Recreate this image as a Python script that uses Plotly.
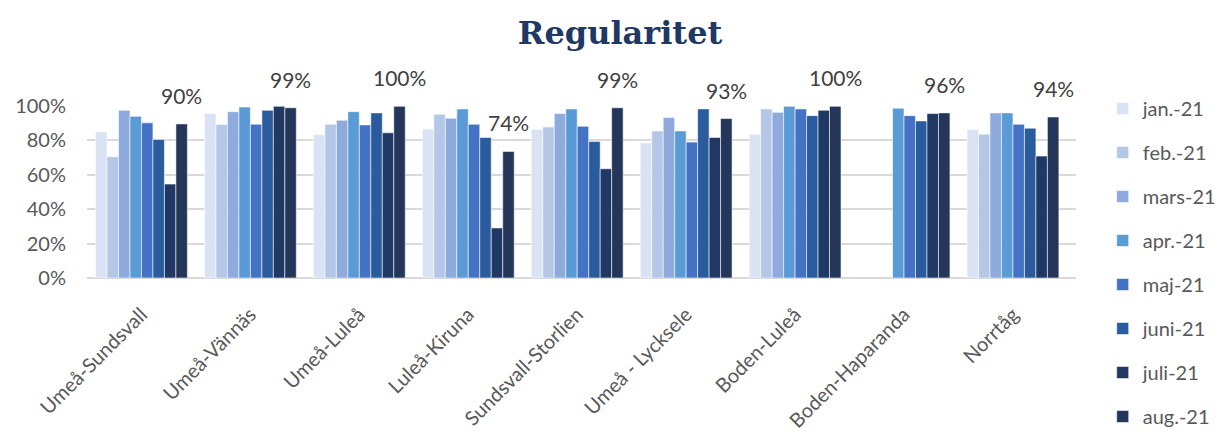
import plotly.graph_objects as go

categories = ["Umeå-Sundsvall", "Umeå-Vännäs", "Umeå-Luleå", "Luleå-Kiruna",
              "Sundsvall-Storlien", "Umeå - Lycksele", "Boden-Luleå",
              "Boden-Haparanda", "Norrtåg"]
months = ["jan.-21", "feb.-21", "mars-21", "apr.-21", "maj-21", "juni-21", "juli-21", "aug.-21"]

jan = [0.85, 0.956, 0.834, 0.867, 0.863, 0.786, 0.836, None, 0.863]
feb = [0.705, 0.892, 0.894, 0.952, 0.878, 0.855, 0.983, None, 0.836]
mars = [0.975, 0.967, 0.917, 0.929, 0.956, 0.933, 0.963, None, 0.96]
apr = [0.94, 0.994, 0.967, 0.983, 0.983, 0.855, 0.998, 0.987, 0.96]
maj = [0.902, 0.894, 0.89, 0.894, 0.882, 0.79, 0.983, 0.944, 0.894]
juni = [0.805, 0.975, 0.96, 0.817, 0.794, 0.983, 0.944, 0.913, 0.871]
juli = [0.546, 0.998, 0.844, 0.291, 0.635, 0.817, 0.975, 0.956, 0.709]
aug = [0.896, 0.99, 0.998, 0.736, 0.99, 0.927, 0.998, 0.96, 0.936]

series = [jan, feb, mars, apr, maj, juni, juli, aug]
colors = ["#DAE3F3", "#B4C7E7", "#8FAADC", "#5B9BD5", "#4472C4", "#2A5B9C", "#1F3864", "#24365A"]

fig = go.Figure()
for i, (name, vals, col) in enumerate(zip(months, series, colors)):
    fig.add_trace(go.Bar(
        x=categories, y=vals, name=name, marker_color=col,
        marker_line=dict(color="rgba(255,255,255,0.55)", width=1),
        legendgroup=name,
    ))

ncat = len(categories)
bargap = 0.157
cat_px = (1223 - 87 - 147) / ncat
bar_px = cat_px * (1 - bargap) / len(months)
aug_shift = 3.5 * bar_px
for c, v in zip(categories, aug):
    fig.add_annotation(x=c, y=v, text=f"{round(v*100):d}%", showarrow=False,
                       xshift=aug_shift, yshift=14, yanchor="bottom",
                       font=dict(family="Lato, Liberation Sans", size=21, color="#404040"))

fig.update_layout(
    width=1223, height=432,
    margin=dict(l=87, r=147, t=106, b=154, autoexpand=False),
    paper_bgcolor="white", plot_bgcolor="white",
    barmode="group", bargap=bargap, bargroupgap=0,
    title=dict(text="<b>Regularitet</b>", x=0.507, xanchor="center", y=0.925, yanchor="middle",
               font=dict(family="DejaVu Serif", size=32, color="#203864")),
    font=dict(family="Lato, Liberation Sans", size=20, color="#595959"),
    legend=dict(x=1.027, xanchor="left", y=0.09, yanchor="middle", tracegroupgap=15,
                font=dict(size=20, color="#595959"), itemwidth=30, maxheight=1000,
                bgcolor="rgba(0,0,0,0)"),
    showlegend=True,
)
fig.update_yaxes(range=[0, 1], tickvals=[0, 0.2, 0.4, 0.6, 0.8, 1.0], tickformat=".0%",
                 showgrid=True, gridcolor="#D9D9D9", gridwidth=1.5, zeroline=True,
                 zerolinecolor="#D9D9D9", zerolinewidth=1.5, showline=False,
                 tickfont=dict(size=20, color="#595959"), ticks="", ticklen=0,
                 ticklabelstandoff=20, automargin=False)
fig.update_xaxes(tickangle=-45, tickfont=dict(size=20, color="#595959"), showline=False,
                 ticklabelstandoff=20, automargin=False)

fig.write_html("out.html")
